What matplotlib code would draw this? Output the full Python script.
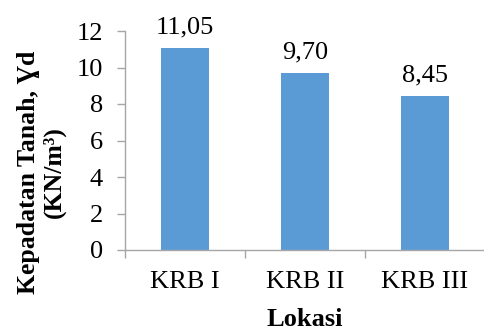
import matplotlib
matplotlib.use("Agg")
import matplotlib.pyplot as plt

plt.rcParams['font.family'] = ['Liberation Serif', 'DejaVu Serif']

locations = ["KRB I", "KRB II", "KRB III"]
density = [11.05, 9.70, 8.45]
yticks = [0, 2, 4, 6, 8, 10, 12]

bar_color = "#5B9BD5"
spine_color = "#A6A6A6"

fig = plt.figure(figsize=(4.85, 3.31), dpi=100)
ax = fig.add_axes([125 / 485, 1 - 250 / 331, 1 - 125 / 485, (250 - 31) / 331])

x = list(range(len(locations)))
ax.bar(x, density, width=0.4, color=bar_color, zorder=2)

for xi, v in zip(x, density):
    ax.annotate(f"{v:.2f}".replace(".", ","), (xi, v), xytext=(0, 7),
                textcoords="offset points", ha="center", va="bottom", fontsize=19)

ax.set_xlim(-0.5, len(locations) - 0.5)
ax.set_ylim(0, 12)
ax.set_yticks(yticks)
ax.set_yticklabels([str(t) for t in yticks], fontsize=19)

ax.set_xticks(x)
ax.set_xticklabels(locations, fontsize=19)
# category separators on the x axis
ax.set_xticks([i - 0.5 for i in range(len(locations) + 1)], minor=True)
ax.tick_params(axis="x", which="major", length=0, pad=15)
ax.tick_params(axis="x", which="minor", length=6, width=1, color=spine_color)
ax.tick_params(axis="y", length=6, width=1, color=spine_color, pad=10)

for side in ["top", "right"]:
    ax.spines[side].set_visible(False)
for side in ["left", "bottom"]:
    ax.spines[side].set_color(spine_color)
    ax.spines[side].set_linewidth(1)

fig.text(0.085, 0.48, "Kepadatan Tanah, Ɣd\n(KN/m³)", rotation=90,
         ha="center", va="center", multialignment="center",
         fontsize=18.5, fontweight="bold", linespacing=1.15)
fig.text(305 / 485, 1 - 319 / 331, "Lokasi", ha="center", va="center",
         fontsize=19, fontweight="bold")

fig.savefig("out.png", dpi=100)
